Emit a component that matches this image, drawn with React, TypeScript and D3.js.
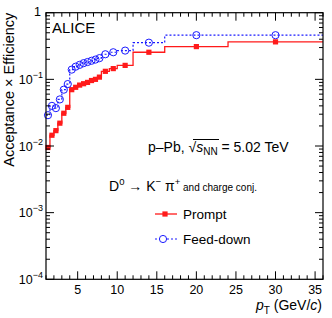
import React from "react";
import * as d3 from "d3";

const binEdges = [1, 1.5, 2, 2.5, 3, 3.5, 4, 4.5, 5, 5.5, 6, 6.5, 7, 7.5, 8, 9, 10, 12, 16, 24, 36];
const promptEff = [0.0095, 0.0145, 0.017, 0.022, 0.031, 0.038, 0.07, 0.076, 0.082, 0.086, 0.09, 0.096, 0.1, 0.108, 0.132, 0.145, 0.162, 0.255, 0.31, 0.365];
const feedDownEff = [0.029, 0.04, 0.037, 0.05, 0.07, 0.085, 0.14, 0.155, 0.165, 0.175, 0.182, 0.19, 0.198, 0.208, 0.238, 0.255, 0.27, 0.355, 0.46, 0.46];
const xMajorTicks = [5, 10, 15, 20, 25, 30, 35];
const yDecades = [1e-4, 1e-3, 1e-2, 1e-1, 1];
const yExponents = ["−4", "−3", "−2", "−1", ""];

const W = 332, H = 318;
const L = 46, R = 323, T = 12.7, B = 279.3;
const FONT = "Liberation Sans, Arial, Helvetica, sans-serif";
const RED = "#ff1a1a";
const BLUE = "#1a1aff";

export default function App() {
  const x = d3.scaleLinear().domain([1, 36]).range([L, R]);
  const y = d3.scaleLog().domain([1e-4, 1]).range([B, T]);

  const stepPts = (vals: number[]) => {
    const pts: [number, number][] = vals.map((v, i) => [binEdges[i], v]);
    pts.push([binEdges[binEdges.length - 1], vals[vals.length - 1]]);
    return pts;
  };
  const line = d3
    .line<[number, number]>()
    .x((d) => x(d[0]))
    .y((d) => y(d[1]))
    .curve(d3.curveStepAfter);

  const centers = promptEff.map((_, i) => (binEdges[i] + binEdges[i + 1]) / 2);

  const xMinor = d3.range(1, 37).filter((v) => v % 5 !== 0);
  const yMinor: number[] = [];
  for (let e = -4; e < 0; e++) for (let k = 2; k <= 9; k++) yMinor.push(k * Math.pow(10, e));

  const maj = 8, mnr = 4;

  return (
    <svg width={W} height={H} style={{ position: "absolute", left: 0, top: 0, background: "#fff" }} fontFamily={FONT}>
      <rect x={0} y={0} width={W} height={H} fill="#fff" />
      {/* data */}
      <path d={line(stepPts(feedDownEff)) || ""} fill="none" stroke={BLUE} strokeWidth={1.2} strokeDasharray="2,2" />
      <path d={line(stepPts(promptEff)) || ""} fill="none" stroke={RED} strokeWidth={1.3} />
      {promptEff.map((v, i) => (
        <rect key={"p" + i} x={x(centers[i]) - 2.6} y={y(v) - 2.6} width={5.2} height={5.2} fill={RED} />
      ))}
      {feedDownEff.map((v, i) => (
        <circle key={"f" + i} cx={x(centers[i])} cy={y(v)} r={3.6} fill="none" stroke={BLUE} strokeWidth={1} />
      ))}
      {/* frame */}
      <rect x={L} y={T} width={R - L} height={B - T} fill="none" stroke="#000" strokeWidth={1.2} />
      {/* x ticks */}
      {xMajorTicks.map((v) => (
        <g key={"xm" + v}>
          <line x1={x(v)} x2={x(v)} y1={B} y2={B - maj} stroke="#000" />
          <line x1={x(v)} x2={x(v)} y1={T} y2={T + maj} stroke="#000" />
          <text x={x(v)} y={294} fontSize={12.5} textAnchor="middle">{v}</text>
        </g>
      ))}
      {xMinor.map((v) => (
        <g key={"xn" + v}>
          <line x1={x(v)} x2={x(v)} y1={B} y2={B - mnr} stroke="#000" />
          <line x1={x(v)} x2={x(v)} y1={T} y2={T + mnr} stroke="#000" />
        </g>
      ))}
      {/* y ticks */}
      {yDecades.map((v, i) => (
        <g key={"ym" + i}>
          <line x1={L} x2={L + maj} y1={y(v)} y2={y(v)} stroke="#000" />
          <line x1={R} x2={R - maj} y1={y(v)} y2={y(v)} stroke="#000" />
          {yExponents[i] === "" ? (
            <text x={41} y={y(v) + 3} fontSize={12.5} textAnchor="end">1</text>
          ) : (
            <text x={43} y={y(v) + 4.5} fontSize={12.5} textAnchor="end">
              10<tspan fontSize={9} dy={-6}>{yExponents[i]}</tspan>
            </text>
          )}
        </g>
      ))}
      {yMinor.map((v, i) => (
        <g key={"yn" + i}>
          <line x1={L} x2={L + mnr} y1={y(v)} y2={y(v)} stroke="#000" />
          <line x1={R} x2={R - mnr} y1={y(v)} y2={y(v)} stroke="#000" />
        </g>
      ))}
      {/* axis titles */}
      <text transform={`translate(14,${T}) rotate(-90)`} fontSize={14.5} textAnchor="end">
        Acceptance × Efficiency
      </text>
      <text x={322} y={310} fontSize={14} textAnchor="end">
        <tspan fontStyle="italic">p</tspan>
        <tspan fontSize={10} dy={4}>T</tspan>
        <tspan dy={-4}> (GeV/</tspan>
        <tspan fontStyle="italic">c</tspan>
        <tspan>)</tspan>
      </text>
      {/* labels */}
      <text x={52} y={33} fontSize={15}>ALICE</text>
      <text x={148} y={152} fontSize={14}>
        p–Pb,{" "}
        <tspan>√</tspan>
        <tspan fontStyle="italic">s</tspan>
        <tspan fontSize={10} dy={3}>NN</tspan>
        <tspan dy={-3}> = 5.02 TeV</tspan>
      </text>
      <line x1={193} x2={219} y1={139.5} y2={139.5} stroke="#000" strokeWidth={1} />
      <text x={109} y={191} fontSize={14}>
        D<tspan fontSize={9.5} dy={-6}>0</tspan>
        <tspan dy={6}> → K</tspan>
        <tspan fontSize={9.5} dy={-6}>−</tspan>
        <tspan dy={6}>  π</tspan>
        <tspan fontSize={9.5} dy={-6}>+</tspan>
        <tspan fontSize={10} dy={6}> and charge conj.</tspan>
      </text>
      {/* legend */}
      <line x1={155} x2={177} y1={214} y2={214} stroke={RED} strokeWidth={1.3} />
      <rect x={165 - 2.6} y={214 - 2.6} width={5.2} height={5.2} fill={RED} />
      <text x={183} y={219} fontSize={13.5}>Prompt</text>
      <line x1={155} x2={177} y1={239} y2={239} stroke={BLUE} strokeWidth={1.2} strokeDasharray="2,2" />
      <circle cx={163} cy={239} r={3.6} fill="#fff" stroke={BLUE} strokeWidth={1} />
      <text x={183} y={244} fontSize={13.5}>Feed-down</text>
    </svg>
  );
}
